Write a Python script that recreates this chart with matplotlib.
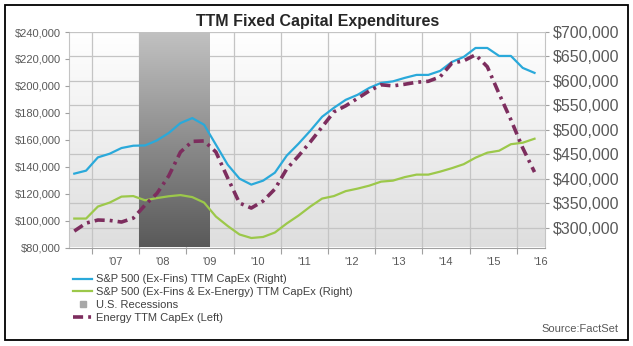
import matplotlib
matplotlib.use("Agg")
import matplotlib.pyplot as plt
import numpy as np
from matplotlib.lines import Line2D
from matplotlib.patches import Rectangle
from matplotlib.ticker import FixedLocator, FuncFormatter

plt.rcParams['font.family'] = ['Liberation Sans', 'DejaVu Sans']

quarters = ["2006Q3", "2006Q4",
            "2007Q1", "2007Q2", "2007Q3", "2007Q4",
            "2008Q1", "2008Q2", "2008Q3", "2008Q4",
            "2009Q1", "2009Q2", "2009Q3", "2009Q4",
            "2010Q1", "2010Q2", "2010Q3", "2010Q4",
            "2011Q1", "2011Q2", "2011Q3", "2011Q4",
            "2012Q1", "2012Q2", "2012Q3", "2012Q4",
            "2013Q1", "2013Q2", "2013Q3", "2013Q4",
            "2014Q1", "2014Q2", "2014Q3", "2014Q4",
            "2015Q1", "2015Q2", "2015Q3", "2015Q4",
            "2016Q1", "2016Q2"]

# S&P 500 (Ex-Fins) TTM CapEx -- right axis
sp500_ex_fins = [410800, 416900, 444000, 451500, 463100, 467800, 468400, 478600,
                 493700, 514100, 524200, 510600, 469900, 429100, 400600, 388400,
                 396500, 412800, 447500, 471900, 498400, 526900, 545200, 561500,
                 571700, 585900, 596100, 599200, 606300, 612400, 612400, 620600,
                 638900, 649100, 667400, 667400, 651100, 651100, 626700, 616500]

# S&P 500 (Ex-Fins & Ex-Energy) TTM CapEx -- right axis
sp500_ex_fins_ex_energy = [319100, 319100, 343600, 351700, 363900, 365000, 356400, 360900,
                           364600, 367000, 362900, 351700, 323200, 303900, 286600, 279400,
                           281500, 290600, 309000, 325200, 343600, 359900, 365000, 375100,
                           380200, 386300, 394500, 396500, 403700, 408800, 408800, 414900,
                           422000, 430100, 443400, 453600, 457600, 470900, 473900, 482100]

# Energy TTM CapEx -- left axis
energy = [92200, 98100, 100400, 100100, 98900, 101800, 111500, 120100,
          133100, 150900, 158800, 159100, 150900, 131600, 113000, 109300,
          114500, 123400, 138300, 148000, 158400, 169500, 180700, 185200,
          190700, 196300, 200800, 200000, 201200, 202700, 203400, 206700,
          216900, 218600, 223100, 214200, 194100, 174800, 153900, 136000]

recession = (2008.0, 2009.5)
year_ticks = [2007, 2008, 2009, 2010, 2011, 2012, 2013, 2014, 2015, 2016]
year_labels = ["'07", "'08", "'09", "'10", "'11", "'12", "'13", "'14", "'15", "'16"]
left_ticks = [80000, 100000, 120000, 140000, 160000, 180000, 200000, 220000, 240000]
right_ticks = [300000, 350000, 400000, 450000, 500000, 550000, 600000, 650000, 700000]

series_labels = ["S&P 500 (Ex-Fins) TTM CapEx (Right)",
                 "S&P 500 (Ex-Fins & Ex-Energy) TTM CapEx (Right)",
                 "U.S. Recessions",
                 "Energy TTM CapEx (Left)"]

BLUE = "#2aa9da"
GREEN = "#9cc84a"
PURPLE = "#7d2d5e"
TXT = "#595959"


def q_to_x(q):
    y, n = q.split("Q")
    return int(y) + (int(n) - 1) * 0.25 + 0.125


x = np.array([q_to_x(q) for q in quarters])

W, H = 633, 346
fig = plt.figure(figsize=(W / 100, H / 100), dpi=100)
fig.patch.set_facecolor("white")

L, R, T, B = 69, 545, 32, 247.5
ax = fig.add_axes([L / W, 1 - B / H, (R - L) / W, (B - T) / H])
ax2 = ax.twinx()

xlim = (2006.513, 2016.597)
ylim_r = (260000, 700000)
ylim_l = (80000, 240000)

# plot background gradient
grad = np.linspace(0, 1, 256).reshape(-1, 1)
bg_top = np.array([1.0, 1.0, 1.0])
bg_bot = np.array([0.87, 0.87, 0.87])
bg = bg_top[None, None, :] * (1 - grad[:, :, None]) + bg_bot[None, None, :] * grad[:, :, None]
ax.imshow(bg, extent=(0, 1, 0, 1), transform=ax.transAxes, aspect="auto", zorder=0)

# recession band gradient
band_top = np.array([0.76, 0.76, 0.76])
band_bot = np.array([0.35, 0.35, 0.35])
band = band_top[None, None, :] * (1 - grad[:, :, None]) + band_bot[None, None, :] * grad[:, :, None]
ax.imshow(band, extent=(recession[0], recession[1], ylim_r[0], ylim_r[1]),
          aspect="auto", zorder=1)

ax.plot(x, sp500_ex_fins, color=BLUE, lw=1.6, zorder=3)
ax.plot(x, sp500_ex_fins_ex_energy, color=GREEN, lw=1.6, zorder=3)
ax2.plot(x, energy, color=PURPLE, lw=2.6, linestyle=(0, (2.8, 1.4, 0.8, 1.4)),
         dash_capstyle="butt", zorder=3)

ax.set_xlim(*xlim)
ax.set_ylim(*ylim_r)
ax2.set_ylim(*ylim_l)

# grid
ax.set_axisbelow(True)
ax.xaxis.set_major_locator(FixedLocator(year_ticks))
ax.xaxis.set_major_formatter(FuncFormatter(lambda v, p: ""))
ax.xaxis.set_minor_locator(FixedLocator([y + 0.5 for y in year_ticks]))
ax.xaxis.set_minor_formatter(FuncFormatter(lambda v, p: year_labels[int(round(v - 0.5)) - 2007]
                                           if 2007 <= round(v - 0.5) <= 2016 else ""))
ax.tick_params(axis="x", which="major", length=4, width=0.8, color="#a0a0a0", direction="out")
ax.tick_params(axis="x", which="minor", length=0, labelsize=8, labelcolor=TXT, pad=7)
ax.grid(True, axis="x", which="major", color="#c4c4c4", lw=0.9, zorder=0.5)

ax.yaxis.set_major_locator(FixedLocator(right_ticks))
ax.yaxis.set_major_formatter(FuncFormatter(lambda v, p: f"${v:,.0f}"))
ax.yaxis.tick_right()
ax.tick_params(axis="y", length=3, width=0.8, color="#a0a0a0", labelsize=11.5,
               labelcolor=TXT, pad=3)
ax.grid(True, axis="y", which="major", color="#c4c4c4", lw=0.9, zorder=0.5)

ax2.yaxis.set_major_locator(FixedLocator(left_ticks))
ax2.yaxis.set_major_formatter(FuncFormatter(lambda v, p: f"${v:,.0f}"))
ax2.yaxis.set_ticks_position("left")
ax2.yaxis.set_label_position("left")
ax2.tick_params(axis="y", length=3, width=0.8, color="#a0a0a0", labelsize=8,
                labelcolor=TXT, pad=3)

for a in (ax, ax2):
    for s in a.spines.values():
        s.set_visible(False)
ax.spines["bottom"].set_visible(True)
ax.spines["bottom"].set_color("#a0a0a0")
ax.spines["left"].set_visible(True)
ax.spines["left"].set_color("#c4c4c4")
ax.spines["right"].set_visible(True)
ax.spines["right"].set_color("#c4c4c4")

# title
fig.text(317.5 / W, 1 - 21.5 / H, "TTM Fixed Capital Expenditures", ha="center", va="center",
         fontsize=11.5, fontweight="bold", color="#262626")

# legend
handles = [Line2D([], [], color=BLUE, lw=1.6),
           Line2D([], [], color=GREEN, lw=1.6),
           Line2D([], [], color="#a8a8a8", marker="s", markersize=4.5, linestyle="None"),
           Line2D([], [], color=PURPLE, lw=2.6, linestyle=(0, (2.8, 1.4, 0.8, 1.4)))]
leg = fig.legend(handles, series_labels, loc="upper left", numpoints=1,
                 bbox_to_anchor=(73 / W, 1 - 274.5 / H), frameon=False, fontsize=8,
                 handlelength=1.75, handletextpad=0.35, labelspacing=0.26,
                 borderaxespad=0, borderpad=0)
for t in leg.get_texts():
    t.set_color("#404040")

fig.text(618 / W, 1 - 329 / H, "Source:FactSet", ha="right", va="center",
         fontsize=8, color=TXT)

# outer frame
fig.add_artist(Rectangle((5 / W, 1 - 340 / H), 623 / W, 335 / H, transform=fig.transFigure,
                         fill=False, edgecolor="black", lw=1.3))

fig.savefig("out.png", dpi=100)
